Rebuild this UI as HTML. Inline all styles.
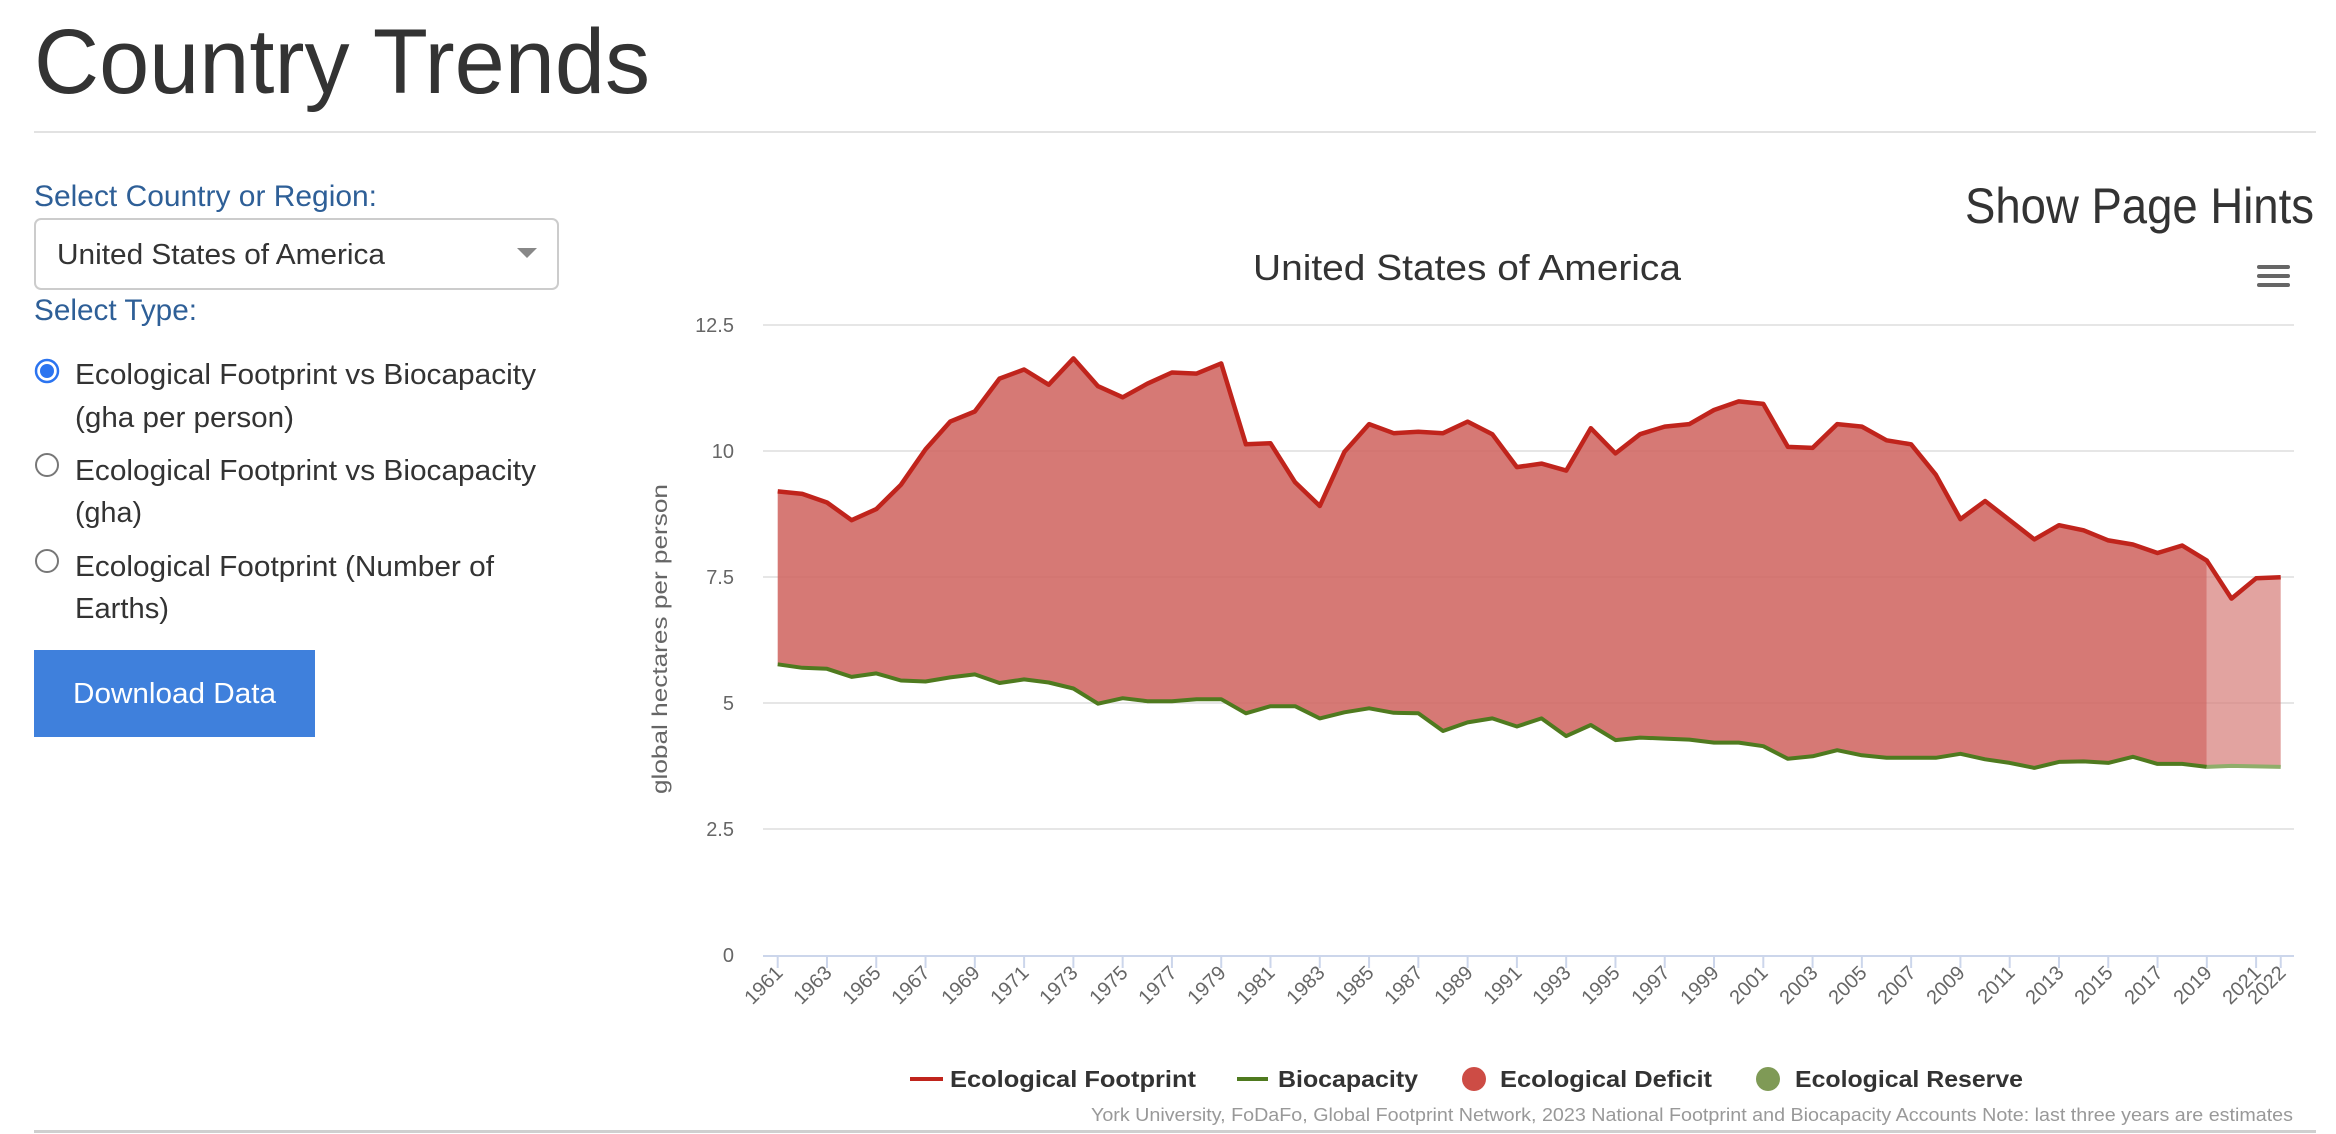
<!DOCTYPE html>
<html><head><meta charset="utf-8"><style>
html,body{margin:0;padding:0;background:#fff;width:2336px;height:1134px;overflow:hidden}
svg{display:block}
text{font-family:"Liberation Sans","DejaVu Sans",sans-serif}
</style></head><body>
<svg id="s" width="2336" height="1134" viewBox="0 0 2336 1134" xmlns="http://www.w3.org/2000/svg">
<text x="34" y="93" font-size="92" fill="#333" textLength="616" lengthAdjust="spacingAndGlyphs">Country Trends</text>
<rect x="34" y="131" width="2282" height="2" fill="#e2e2e2"/>
<rect x="34" y="1130" width="2282" height="3" fill="#cfcfcf"/>

<text x="34" y="206" font-size="30" fill="#2e5f97" textLength="343" lengthAdjust="spacingAndGlyphs">Select Country or Region:</text>
<rect x="35" y="219" width="523" height="70" rx="6" fill="#fff" stroke="#ccc" stroke-width="2"/>
<text x="57" y="264" font-size="29" fill="#333" textLength="328" lengthAdjust="spacingAndGlyphs">United States of America</text>
<polygon points="517,248 537,248 527,258" fill="#888"/>
<text x="34" y="320" font-size="30" fill="#2e5f97" textLength="163" lengthAdjust="spacingAndGlyphs">Select Type:</text>

<circle cx="47" cy="371" r="11" fill="#fff" stroke="#2b74f0" stroke-width="2.5"/>
<circle cx="47" cy="371" r="7" fill="#2b74f0"/>
<text x="75" y="384" font-size="29" fill="#333" textLength="461" lengthAdjust="spacingAndGlyphs">Ecological Footprint vs Biocapacity</text>
<text x="75" y="427" font-size="29" fill="#333" textLength="219" lengthAdjust="spacingAndGlyphs">(gha per person)</text>
<circle cx="47" cy="465" r="11" fill="#fff" stroke="#777" stroke-width="2"/>
<text x="75" y="480" font-size="29" fill="#333" textLength="461" lengthAdjust="spacingAndGlyphs">Ecological Footprint vs Biocapacity</text>
<text x="75" y="522" font-size="29" fill="#333" textLength="67" lengthAdjust="spacingAndGlyphs">(gha)</text>
<circle cx="47" cy="561" r="11" fill="#fff" stroke="#777" stroke-width="2"/>
<text x="75" y="576" font-size="29" fill="#333" textLength="419" lengthAdjust="spacingAndGlyphs">Ecological Footprint (Number of</text>
<text x="75" y="618" font-size="29" fill="#333" textLength="94" lengthAdjust="spacingAndGlyphs">Earths)</text>
<rect x="34" y="650" width="281" height="87" fill="#3f80dc"/>
<text x="73" y="703" font-size="29" fill="#fff" textLength="203" lengthAdjust="spacingAndGlyphs">Download Data</text>

<text x="1965" y="223" font-size="50" fill="#333" textLength="349" lengthAdjust="spacingAndGlyphs">Show Page Hints</text>
<text x="1253" y="280" font-size="36" fill="#333" textLength="428" lengthAdjust="spacingAndGlyphs">United States of America</text>
<rect x="2257" y="265" width="33" height="4" rx="2" fill="#666"/>
<rect x="2257" y="274" width="33" height="4" rx="2" fill="#666"/>
<rect x="2257" y="283" width="33" height="4" rx="2" fill="#666"/>

<g stroke="#e6e6e6" stroke-width="2">
<line x1="763" y1="325" x2="2294" y2="325"/>
<line x1="763" y1="451" x2="2294" y2="451"/>
<line x1="763" y1="577" x2="2294" y2="577"/>
<line x1="763" y1="703" x2="2294" y2="703"/>
<line x1="763" y1="829" x2="2294" y2="829"/>
</g>
<g font-size="20" fill="#666" text-anchor="end">
<text x="734" y="332">12.5</text>
<text x="734" y="458">10</text>
<text x="734" y="584">7.5</text>
<text x="734" y="710">5</text>
<text x="734" y="836">2.5</text>
<text x="734" y="962">0</text>
</g>
<text transform="translate(667,639) rotate(-90)" font-size="21" fill="#666" text-anchor="middle" textLength="310" lengthAdjust="spacingAndGlyphs">global hectares per person</text>

<g id="plot"></g>
<line x1="763" y1="956" x2="2294" y2="956" stroke="#ccd6eb" stroke-width="2"/>
<g id="ticks" stroke="#ccd6eb" stroke-width="2"></g>

<g font-size="20" fill="#666" text-anchor="end">
<text transform="translate(784,974) rotate(-45)">1961</text>
<text transform="translate(833,974) rotate(-45)">1963</text>
<text transform="translate(882,974) rotate(-45)">1965</text>
<text transform="translate(931,974) rotate(-45)">1967</text>
<text transform="translate(981,974) rotate(-45)">1969</text>
<text transform="translate(1030,974) rotate(-45)">1971</text>
<text transform="translate(1079,974) rotate(-45)">1973</text>
<text transform="translate(1129,974) rotate(-45)">1975</text>
<text transform="translate(1178,974) rotate(-45)">1977</text>
<text transform="translate(1227,974) rotate(-45)">1979</text>
<text transform="translate(1276,974) rotate(-45)">1981</text>
<text transform="translate(1326,974) rotate(-45)">1983</text>
<text transform="translate(1375,974) rotate(-45)">1985</text>
<text transform="translate(1424,974) rotate(-45)">1987</text>
<text transform="translate(1474,974) rotate(-45)">1989</text>
<text transform="translate(1523,974) rotate(-45)">1991</text>
<text transform="translate(1572,974) rotate(-45)">1993</text>
<text transform="translate(1621,974) rotate(-45)">1995</text>
<text transform="translate(1671,974) rotate(-45)">1997</text>
<text transform="translate(1720,974) rotate(-45)">1999</text>
<text transform="translate(1769,974) rotate(-45)">2001</text>
<text transform="translate(1819,974) rotate(-45)">2003</text>
<text transform="translate(1868,974) rotate(-45)">2005</text>
<text transform="translate(1917,974) rotate(-45)">2007</text>
<text transform="translate(1966,974) rotate(-45)">2009</text>
<text transform="translate(2016,974) rotate(-45)">2011</text>
<text transform="translate(2065,974) rotate(-45)">2013</text>
<text transform="translate(2114,974) rotate(-45)">2015</text>
<text transform="translate(2164,974) rotate(-45)">2017</text>
<text transform="translate(2213,974) rotate(-45)">2019</text>
<text transform="translate(2262,974) rotate(-45)">2021</text>
<text transform="translate(2287,974) rotate(-45)">2022</text>
</g>

<rect x="910" y="1077" width="33" height="4" fill="#c0241c"/>
<text x="950" y="1087" font-size="23" font-weight="bold" fill="#333" textLength="246" lengthAdjust="spacingAndGlyphs">Ecological Footprint</text>
<rect x="1237" y="1077" width="31" height="4" fill="#4f7a1f"/>
<text x="1278" y="1087" font-size="23" font-weight="bold" fill="#333" textLength="140" lengthAdjust="spacingAndGlyphs">Biocapacity</text>
<circle cx="1474" cy="1079" r="12" fill="#cd4c45"/>
<text x="1500" y="1087" font-size="23" font-weight="bold" fill="#333" textLength="212" lengthAdjust="spacingAndGlyphs">Ecological Deficit</text>
<circle cx="1768" cy="1079" r="12" fill="#7f9a56"/>
<text x="1795" y="1087" font-size="23" font-weight="bold" fill="#333" textLength="228" lengthAdjust="spacingAndGlyphs">Ecological Reserve</text>
<text x="1091" y="1121" font-size="18" fill="#999" textLength="1202" lengthAdjust="spacingAndGlyphs">York University, FoDaFo, Global Footprint Network, 2023 National Footprint and Biocapacity Accounts Note: last three years are estimates</text>
</svg>
<script>
var ef=[9.17,9.12,8.95,8.6,8.82,9.3,10.0,10.55,10.75,11.4,11.58,11.28,11.8,11.25,11.03,11.3,11.52,11.5,11.7,10.1,10.12,9.35,8.88,9.95,10.5,10.32,10.35,10.32,10.55,10.3,9.65,9.72,9.58,10.42,9.92,10.3,10.45,10.5,10.78,10.95,10.9,10.05,10.03,10.5,10.45,10.18,10.1,9.5,8.62,8.98,8.6,8.22,8.5,8.4,8.2,8.12,7.95,8.1,7.8,7.05,7.45,7.47];
var bc=[5.75,5.68,5.66,5.5,5.57,5.43,5.41,5.49,5.55,5.38,5.45,5.39,5.27,4.97,5.08,5.02,5.02,5.06,5.06,4.78,4.92,4.92,4.68,4.8,4.88,4.79,4.78,4.43,4.6,4.68,4.52,4.68,4.33,4.55,4.25,4.3,4.28,4.26,4.2,4.2,4.13,3.88,3.93,4.05,3.95,3.9,3.9,3.9,3.98,3.87,3.8,3.7,3.82,3.83,3.8,3.92,3.78,3.78,3.72,3.74,3.73,3.72];
function X(i){return 777.7+i*24.64}function Y(v){return 955-50.56*v}
function pts(a,s,e){var r=[];for(var i=s;i<=e;i++)r.push(X(i).toFixed(1)+","+Y(a[i]).toFixed(1));return r}
function rev(a){return a.slice().reverse()}
var NS="http://www.w3.org/2000/svg",g=document.getElementById("plot");
function el(n,at){var e=document.createElementNS(NS,n);for(var k in at)e.setAttribute(k,at[k]);g.appendChild(e);return e}
el("polygon",{points:pts(ef,0,58).concat(rev(pts(bc,0,58))).join(" "),fill:"#d06560","fill-opacity":"0.87"});
el("polygon",{points:pts(ef,58,61).concat(rev(pts(bc,58,61))).join(" "),fill:"#d57c78","fill-opacity":"0.7"});
el("polyline",{points:pts(bc,0,58).join(" "),fill:"none",stroke:"#4f7a1f","stroke-width":"4","stroke-linejoin":"round"});
el("polyline",{points:pts(bc,58,61).join(" "),fill:"none",stroke:"#8fae6a","stroke-width":"4","stroke-linejoin":"round"});
el("polyline",{points:pts(ef,0,61).join(" "),fill:"none",stroke:"#c0241c","stroke-width":"4.5","stroke-linejoin":"round"});
var t=document.getElementById("ticks");
for(var i=0;i<=61;i+=2){var l=document.createElementNS(NS,"line");l.setAttribute("x1",X(i));l.setAttribute("x2",X(i));l.setAttribute("y1",956);l.setAttribute("y2",968);t.appendChild(l)}
var l=document.createElementNS(NS,"line");l.setAttribute("x1",X(61));l.setAttribute("x2",X(61));l.setAttribute("y1",956);l.setAttribute("y2",968);t.appendChild(l);
</script>
</body></html>
